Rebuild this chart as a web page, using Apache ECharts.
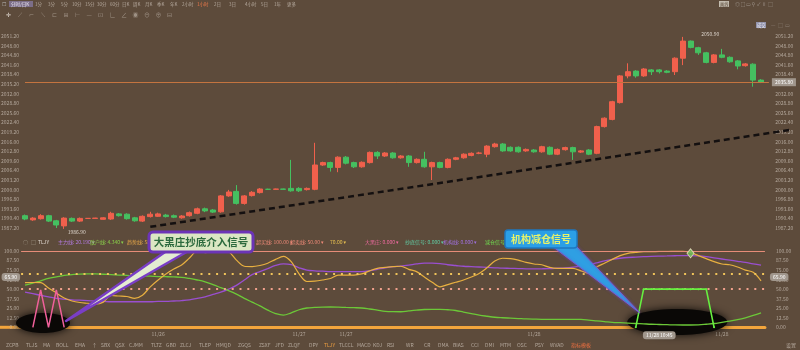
<!DOCTYPE html>
<html><head><meta charset="utf-8">
<script src="https://cdn.jsdelivr.net/npm/echarts@6/dist/echarts.min.js"></script>
<style>html,body{margin:0;padding:0;background:#5d4b3b}#c{width:800px;height:350px}</style>
</head><body><div id="c"></div>
<script>
// ---------- DATA ----------
// candles: [open, close, low, high]
const candles = [
[1991.3,1990.2,1989.8,1991.7],[1989.9,1990.5,1989.6,1990.8],[1990.3,1991.3,1990.0,1991.8],[1991.3,1989.5,1989.2,1991.6],[1989.6,1988.2,1987.2,1989.9],
[1987.9,1990.5,1986.9,1990.8],[1990.4,1989.5,1989.2,1990.7],[1989.5,1990.4,1989.2,1990.7],[1990.4,1990.4,1990.3,1990.5],[1990.4,1990.5,1990.3,1990.6],
[1990.1,1990.6,1990.0,1990.8],[1990.2,1992.1,1989.9,1992.6],[1991.9,1991.3,1991.0,1992.2],[1991.8,1990.3,1990.0,1992.1],[1990.6,1989.6,1989.3,1990.9],
[1989.5,1991.1,1989.2,1991.4],[1991.0,1991.8,1990.7,1992.6],[1991.1,1991.9,1990.9,1992.3],[1991.5,1991.0,1990.7,1991.9],[1991.3,1990.8,1990.5,1991.7],
[1990.6,1991.2,1990.3,1991.5],[1991.3,1992.3,1991.0,1992.7],[1992.1,1993.6,1991.8,1994.0],[1993.6,1992.9,1992.5,1994.0],[1993.2,1992.5,1992.2,1993.5],
[1992.6,1997.9,1992.3,1998.2],[1997.9,1999.2,1997.6,1999.9],[1999.4,1995.4,1995.0,2001.5],[1995.4,1997.9,1995.0,1998.2],[1998.0,1999.1,1997.7,1999.5],
[1999.0,2000.2,1998.7,2000.5],[2000.1,2000.1,2000.0,2000.3],[2000.1,2000.2,2000.0,2000.3],[2000.2,2000.1,2000.0,2000.3],[2000.4,1999.6,1999.3,2009.9],
[2000.4,1999.6,1999.2,2000.8],[2000.0,2000.4,1999.7,2000.7],[2000.1,2008.2,1999.8,2015.6],[2008.2,2009.0,2007.9,2009.3],[2009.0,2007.4,2006.0,2009.3],
[2007.4,2010.8,2005.8,2011.1],[2010.8,2008.8,2008.4,2011.2],[2009.0,2007.6,2007.2,2009.3],[2007.6,2009.1,2007.3,2009.4],[2009.0,2012.4,2008.7,2012.7],
[2012.4,2011.2,2010.2,2012.8],[2011.2,2012.2,2010.9,2012.5],[2012.2,2010.6,2010.3,2012.5],[2010.6,2011.2,2010.3,2011.5],[2011.2,2009.0,2007.6,2011.5],
[2009.0,2010.1,2008.7,2010.4],[2010.1,2007.6,2007.3,2012.6],[2007.6,2009.0,2003.2,2009.3],[2009.0,2007.4,2007.1,2009.3],[2007.4,2010.1,2007.1,2010.4],
[2010.1,2010.6,2009.8,2010.9],[2010.6,2011.8,2010.3,2012.1],[2011.4,2012.1,2011.1,2012.4],[2012.1,2012.2,2011.8,2012.6],[2011.8,2014.5,2010.8,2014.8],
[2014.3,2015.2,2014.0,2015.6],[2015.2,2012.9,2012.6,2015.5],[2014.1,2012.9,2012.6,2014.4],[2014.1,2012.6,2012.3,2014.4],[2012.9,2013.4,2012.6,2013.7],
[2013.2,2012.6,2012.3,2013.5],[2012.6,2014.3,2012.3,2014.6],[2014.1,2011.8,2011.5,2014.4],[2011.8,2013.4,2011.5,2013.7],[2013.3,2014.0,2013.0,2014.3],
[2014.0,2012.6,2009.9,2014.3],[2012.5,2012.9,2012.2,2013.2],[2013.2,2011.8,2011.5,2013.5],[2012.1,2021.0,2011.8,2021.3],[2021.0,2023.8,2020.7,2024.1],
[2023.4,2029.3,2023.1,2029.6],[2029.0,2037.9,2028.7,2038.2],[2037.9,2039.3,2037.1,2042.1],[2039.5,2037.9,2037.3,2039.8],[2037.9,2040.2,2037.6,2040.5],
[2039.9,2039.3,2038.2,2040.2],[2039.9,2039.3,2038.7,2040.2],[2039.5,2039.1,2038.8,2039.8],[2039.3,2043.8,2038.2,2044.1],[2043.8,2049.5,2041.5,2050.9],
[2049.5,2047.4,2047.1,2049.7],[2047.3,2045.6,2044.9,2047.6],[2045.6,2042.4,2042.1,2045.9],[2042.4,2044.9,2042.1,2045.2],[2044.9,2044.1,2043.8,2046.9],
[2044.1,2042.6,2042.3,2044.4],[2042.9,2041.2,2040.1,2043.2],[2041.3,2041.9,2041.0,2042.2],[2041.8,2036.5,2034.3,2042.1],[2036.5,2035.8,2035.5,2036.8]
];
const yellowLine = [58.5,58.7,58.5,51.5,45,38.4,34.5,32.5,31.5,30.5,
33,41.7,41,40.4,38,42,53,62,69.9,76.4,
81.7,90.8,100,98,99,100,99,88,80,79.5,
81,84,89,93,86,70,60,60.5,62,64,
68.5,68.5,68.5,70,74,77.3,78.5,79.5,80,76,
73,66,59,53,56,59,62,66,70.5,78,
87,90.5,90,88,85,83,82,78.5,77.3,77.3,
77.3,74,71,79,84,89,94,97,98,99,
99,99.5,99.5,100,100,98,94,90,86,83,
82,79,75,72,61];
const purpleLine = [46,44,42,40,38,37,36,35.5,35,34.5,
34,33.5,33.5,33.5,33.5,33.5,33.5,34,34,34.5,
35,36,38,40,43,46,50,55,62,69,
73,77,81,83,82,78,75,74,73.5,73,
73,73,73,73,74,76,78,79.5,80.3,81.5,
83,84,84,83.5,82,81,80,79.5,79,78.5,
78,77.5,77.3,77,76.7,76.5,76.7,77,77.5,78,
79,80.5,82,84.5,87,89,90.5,91.5,92,92.5,
93,93.3,93.5,93.8,94,94,93.5,92.5,91,89.5,
88,86.5,85,83,81.5];
const greenLine = [55.4,58,61,64,66,68,69,69.8,70,70,
69.5,69,68.5,68,67.5,67.2,67,66.5,66.3,66,
65.5,64,62,59.5,56,52,48,43.5,38,33,
28,22.5,18,16,19,23,25.3,26,26.5,26.6,
26.4,26,25.7,25.3,24,22.5,21,20.5,20.4,21.5,
22.5,23.3,23.6,23.6,23,22,20,18,16,14.5,
13.2,12.5,12,11.5,11,10.7,10.5,10.5,10.5,10.5,
10.5,10.3,9.5,8.5,7.5,6.5,6,5.5,5,4.5,
4,3.7,3.4,3.1,3,3,3.2,4,5,6.5,
8,10,12.5,15.5,19];
const pinkSignal = [[1,0],[2,49],[3,0],[4,49],[5,0]];
const greenSignal = [[78,0],[79,50],[80,50],[81,50],[82,50],[83,50],[84,50],[85,50],[86,50],[87,50],[88,0]];
const xTickLabels = {17:'11/26', 35:'11/27', 41:'11/27', 65:'11/28', 89:'11/28'};
const trendLine = [[16, 1987.6], [98, 2020.0]];
const categories = candles.map((c, i) => String(i));
const mainCategories = categories.concat(['95','96','97','98']);
const levelLines = [100, 70, 50];
const cursorValue = 65.9;
const cursorIndex = 81;
const cursorTime = '11/28 10:45';

// ---------- CHART ----------
const FONT = "'Noto Sans CJK SC', 'DejaVu Sans', sans-serif";
const LBL = 'rgba(215,205,195,0.7)';
const chart = echarts.init(document.getElementById('c'));
const lastClose = candles[candles.length - 1][1];
const axLbl = {fontSize: 5, color: LBL, fontFamily: FONT};

const hidePointer = {opacity: 0, width: 0};
const ptrLabel = {show: true, precision: 2, backgroundColor: '#a0968c', color: '#fff', fontSize: 5, padding: [1.5, 3], fontFamily: FONT, margin: 1};

function txt(text, x, y, color, size, extra) {
  return Object.assign({type: 'text', x: x, y: y, z: 90, silent: true,
    style: {text: text, fill: color || LBL, fontSize: size || 5, fontFamily: FONT, verticalAlign: 'middle'}}, extra || {});
}

const topRow = [['1分',35],['3分',48],['5分',61],['10分',72],['15分',85],['30分',97],['60分',110],['日K',122],['周K',133],['月K',145],['季K',157],['年K',170],['2小时',182],['1小时',197],['2日',214],['3日',229],['4小时',245],['5日',261],['1年',274],['更多',287]];
const toolIcons = ['✛','⟋','⌐','⟍','⊏','⊞','⊢','—','⊡','∟','∠','◉','⊖','⊕','⊟'];
const bottomRow = [['ZCPB',6],['TLJS',26],['MA',43],['BOLL',56],['EMA',75],['↑',92],['SBX',101],['QSX',115],['CJMM',129],['TLTZ',151],['GBD',166],['ZLCJ',180],['TLEP',199],['HMQD',216],['ZGQS',238],['ZSXF',259],['JFD',275],['ZLQF',288],['DPY',309],['TLJY',324],['TLCCL',339],['MACD',357],['KDJ',373],['RSI',387],['WR',406],['CR',424],['DMA',438],['BIAS',453],['CCI',471],['DMI',485],['MTM',500],['OSC',517],['PSY',535],['WVAD',550],['指标模板',571],['设置',786]];
const legendRow = [['○',23,'#b0a898'],['□',31,'#b0a898'],['TLJY',38,'#e0d8d0'],['主力线: 20.190 ▾',58,'#b27ae0'],['散户线: 4.340 ▾',90,'#8ad04a'],['趋势线: 58.50 ▾',127,'#e8a848'],['超买线: 100.00 ▾',256,'#f08a78'],['超卖线: 50.00 ▾',290,'#f08a78'],['70.00 ▾',330,'#e8c050'],['大黑庄: 0.000 ▾',365,'#f06aa0'],['抄底信号: 0.000 ▾',405,'#60c8a0'],['机构线: 0.000 ▾',443,'#a070e0'],['减仓信号',485,'#70e050']];

const graphics = [];
graphics.push({type:'rect', z: 89, silent:true, shape:{x:9,y:1,width:24,height:6}, style:{fill:'rgba(150,140,200,0.55)'}});
graphics.push(txt('分时/日K', 11, 4, '#e8e4f0', 4.5));
graphics.push(txt('☐', 2, 4, '#bbb', 5));
topRow.forEach(t => graphics.push(txt(t[0], t[1], 4, t[0] === '1小时' ? '#f07a4a' : LBL, 4.5)));
graphics.push({type:'rect', z: 89, silent:true, shape:{x:719,y:1,width:10,height:6}, style:{fill:'rgba(230,225,215,0.75)'}});
graphics.push(txt('画线', 720, 4, '#5d4b3b', 4.2));
['◎','□','▭','⚲','✓','⁞⁞','□'].forEach((g, i) => graphics.push(txt(g, 735 + i * 5.5, 4, 'rgba(200,195,190,0.6)', 5)));
toolIcons.forEach((g, i) => graphics.push(txt(g, 6 + i * 11.5, 14.5, i === 0 ? '#e8e0d8' : 'rgba(200,190,180,0.6)', 6)));
graphics.push({type:'rect', z: 89, silent:true, shape:{x:756,y:22,width:10,height:6}, style:{fill:'rgba(160,165,200,0.8)'}});
graphics.push(txt('成交', 757, 25, '#f0f0f8', 4.2));
['—','□','▭'].forEach((g, i) => graphics.push(txt(g, 771 + i * 7, 25, 'rgba(200,195,190,0.45)', 5)));
legendRow.forEach(t => graphics.push(txt(t[0], t[1], 242.5, t[2], 5)));
bottomRow.forEach(t => graphics.push(txt(t[0], t[1], 345, t[0] === 'TLJY' ? '#f0a040' : (t[0] === '指标模板' ? '#f07040' : LBL), 5)));

// callout 1
graphics.push({type:'polygon', z: 100, silent:true, shape:{points:[[168,250],[190,250],[66,321]]},
  style:{fill:'#e4ecd2', stroke:'#7a3ec6', lineWidth:2.5, lineJoin:'round'}});
graphics.push({type:'rect', z: 101, silent:true, shape:{x:149,y:232,width:104,height:20,r:4},
  style:{fill:'#dbe7c3', stroke:'#6c34b6', lineWidth:3}});
graphics.push({type:'text', z: 102, silent:true, x: 201, y: 242.5,
  style:{text:'大黑庄抄底介入信号', fill:'#2c6a3e', fontSize:10.5, fontWeight:'bold', fontFamily:FONT, align:'center', verticalAlign:'middle'}});
// callout 2
graphics.push({type:'polygon', z: 100, silent:true, shape:{points:[[552,246],[576,246],[640,313]]},
  style:{fill:'#2f9fe3', stroke:'#7a5ad0', lineWidth:1, shadowBlur:3, shadowColor:'rgba(110,70,200,0.7)'}});
graphics.push({type:'rect', z: 101, silent:true, shape:{x:505,y:230,width:72,height:18,r:3},
  style:{fill:'#2b9fe6', stroke:'#1e78c0', lineWidth:1.5}});
graphics.push({type:'text', z: 102, silent:true, x: 541, y: 239.5,
  style:{text:'机构减仓信号', fill:'#e6f26a', fontSize:10, fontWeight:'bold', fontFamily:FONT, align:'center', verticalAlign:'middle'}});

const option = {
  backgroundColor: '#5d4b3b',
  animation: false,
  textStyle: {fontFamily: FONT},
  grid: [
    {left: 21.1, right: 3.7, top: 26.4, height: 211.2, outerBoundsMode: 'none'},
    {left: 21.1, right: 35.05, top: 251, bottom: 22.7, outerBoundsMode: 'none'}
  ],
  xAxis: [
    {type: 'category', gridIndex: 0, data: mainCategories, boundaryGap: true,
     axisLine: {show: false}, axisTick: {show: false}, axisLabel: {show: false}, splitLine: {show: false}},
    {type: 'category', gridIndex: 1, data: categories, boundaryGap: true,
     axisLine: {show: true, lineStyle: {color: '#f3a53c', width: 3}}, axisTick: {show: false},
     axisLabel: Object.assign({}, axLbl, {margin: 4, interval: (i) => xTickLabels[i] !== undefined, formatter: (v, i) => xTickLabels[i] || ''}),
     splitLine: {show: false},
     axisPointer: {show: true, type: 'line', value: cursorIndex, status: 'show', triggerTooltip: false, lineStyle: hidePointer,
       label: Object.assign({}, ptrLabel, {formatter: () => cursorTime, margin: 4})}}
  ],
  yAxis: [
    {type: 'value', gridIndex: 0, position: 'left', min: 1984, max: 2054.4, interval: 3.2, scale: true,
     axisLine: {show: false}, axisTick: {show: false}, splitLine: {show: false},
     axisLabel: Object.assign({}, axLbl, {margin: 2, showMinLabel: false, showMaxLabel: false, formatter: v => v.toFixed(2)})},
    {type: 'value', gridIndex: 0, position: 'right', min: 1984, max: 2054.4, interval: 3.2, scale: true,
     axisLine: {show: false}, axisTick: {show: false}, splitLine: {show: false},
     axisLabel: Object.assign({}, axLbl, {inside: true, margin: 3, showMinLabel: false, showMaxLabel: false, formatter: v => v.toFixed(2)})},
    {type: 'value', gridIndex: 1, position: 'left', min: 0, max: 100, interval: 12.5,
     axisLine: {show: false}, axisTick: {show: false}, splitLine: {show: false},
     axisLabel: Object.assign({}, axLbl, {margin: 2, formatter: v => v.toFixed(2)}),
     axisPointer: {show: true, value: cursorValue, status: 'show', triggerTooltip: false, lineStyle: hidePointer, label: ptrLabel}},
    {type: 'value', gridIndex: 1, position: 'right', min: 0, max: 100, interval: 12.5,
     axisLine: {show: false}, axisTick: {show: false}, splitLine: {show: false},
     axisLabel: Object.assign({}, axLbl, {margin: 11, formatter: v => v.toFixed(2)}),
     axisPointer: {show: true, value: cursorValue, status: 'show', triggerTooltip: false, lineStyle: hidePointer, label: Object.assign({}, ptrLabel, {margin: 5})}}
  ],
  series: [
    {type: 'candlestick', xAxisIndex: 0, yAxisIndex: 0, data: candles, barWidth: 5.5, z: 3,
     itemStyle: {color: '#f0604c', color0: '#45c060', borderColor: '#f0604c', borderColor0: '#45c060', borderWidth: 1},
     markPoint: {symbol: 'circle', symbolSize: 1, silent: true, itemStyle: {color: 'rgba(0,0,0,0)'},
       label: {show: true, position: 'right', distance: 0, color: '#ddd5cc', fontSize: 5, fontFamily: FONT, formatter: p => Number(p.value).toFixed(2)},
       data: [
         {type: 'max', valueDim: 'highest', label: {offset: [18, -3]}},
         {type: 'min', valueDim: 'lowest', label: {offset: [3, 3]}}
       ]},
     markLine: {symbol: ['none', 'none'], silent: true, animation: false,
       data: [
         [{coord: [0, lastClose], lineStyle: {color: '#c4743f', width: 1, type: 'solid'},
           label: {show: true, position: 'end', distance: 3, formatter: lastClose.toFixed(2), backgroundColor: '#a0968c', color: '#fff', fontSize: 5, padding: [1.5, 3], fontFamily: FONT}},
          {coord: [95, lastClose]}],
         [{coord: trendLine[0], lineStyle: {color: '#141010', width: 2.5, type: [6, 4]}, label: {show: false}},
          {coord: trendLine[1]}]
       ]}},
    {type: 'line', name: 'levels', xAxisIndex: 1, yAxisIndex: 2, data: [], z: 2,
     markLine: {symbol: ['none', 'none'], silent: true, label: {show: false},
       data: [
         {yAxis: levelLines[0], lineStyle: {color: '#e68c78', width: 1, type: 'solid'}},
         {yAxis: levelLines[1], lineStyle: {color: '#f0c45a', width: 2, type: [2, 5.8]}},
         {yAxis: levelLines[2], lineStyle: {color: '#f0a08c', width: 2, type: [2, 5.8]}}
       ]}},
    {type: 'line', name: 'purple', xAxisIndex: 1, yAxisIndex: 2, data: purpleLine, smooth: 0.4, showSymbol: false, z: 3,
     lineStyle: {color: '#9a4fd0', width: 1.3}},
    {type: 'line', name: 'green', xAxisIndex: 1, yAxisIndex: 2, data: greenLine, smooth: 0.4, showSymbol: false, z: 3,
     lineStyle: {color: '#6cc838', width: 1.3}},
    {type: 'line', name: 'yellow', xAxisIndex: 1, yAxisIndex: 2, data: yellowLine, smooth: 0.3, showSymbol: false, z: 4,
     lineStyle: {color: '#e8b040', width: 1.2},
     markPoint: {silent: true, symbol: 'diamond', symbolSize: [7, 9], label: {show: false},
       itemStyle: {color: 'rgba(110,190,90,0.85)', borderColor: '#d8d0b0', borderWidth: 1},
       data: [{coord: [85, 97]}]}},
    {type: 'line', name: 'pink', xAxisIndex: 1, yAxisIndex: 2, data: pinkSignal, showSymbol: false, z: 5,
     lineStyle: {color: '#f0609a', width: 1.5}},
    {type: 'line', name: 'signal', xAxisIndex: 1, yAxisIndex: 2, data: greenSignal, showSymbol: true, symbol: 'circle', symbolSize: 2, z: 5,
     itemStyle: {color: '#66f040'}, lineStyle: {color: '#66f040', width: 1.6}}
  ],
  graphic: graphics
};
chart.setOption(option);

// annotations anchored to data positions of the sub-panel
function px(i, v) {
  const a = chart.convertToPixel({gridIndex: 1}, [Math.floor(i), v]);
  const b = chart.convertToPixel({gridIndex: 1}, [Math.floor(i) + 1, v]);
  const f = i - Math.floor(i);
  return [a[0] + (b[0] - a[0]) * f, a[1]];
}
const e1 = px(2.3, 5.6), e2 = px(83.3, 6.9);
graphics.push({type: 'ellipse', z: 1, silent: true, shape: {cx: e1[0], cy: e1[1], rx: 27, ry: 10},
  style: {fill: '#0a0806', shadowBlur: 8, shadowColor: 'rgba(0,0,0,0.85)'}});
graphics.push({type: 'ellipse', z: 1, silent: true, shape: {cx: e2[0], cy: e2[1], rx: 50, ry: 13},
  style: {fill: '#0a0806', shadowBlur: 8, shadowColor: 'rgba(0,0,0,0.85)'}});
// zero line continues to the left edge of the panel
const z0 = chart.convertToPixel({gridIndex: 1}, [0, 0]);
graphics.push({type: 'line', z: 0, silent: true, shape: {x1: 0, y1: z0[1], x2: 22, y2: z0[1]},
  style: {stroke: '#f3a53c', lineWidth: 3}});
chart.setOption({graphic: graphics}, {replaceMerge: ['graphic']});
</script></body></html>
